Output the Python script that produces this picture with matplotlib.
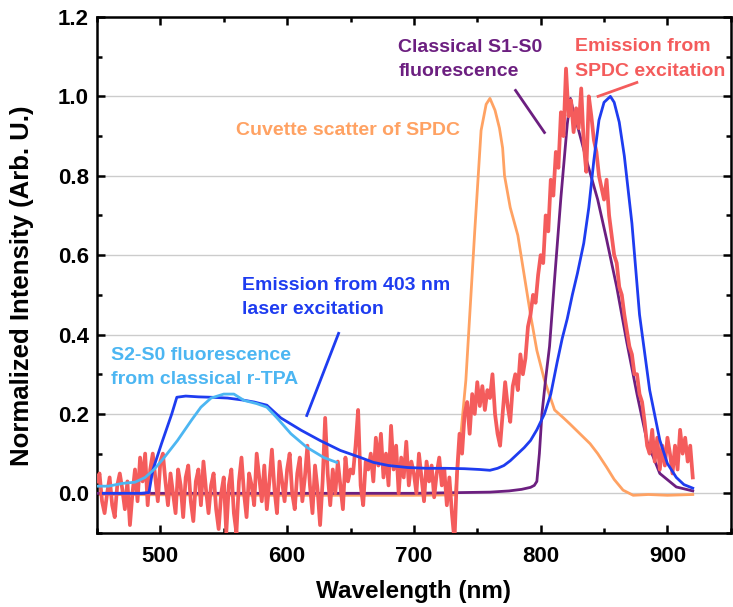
import numpy as np
import matplotlib
matplotlib.use("Agg")
import matplotlib.pyplot as plt
from matplotlib.ticker import MultipleLocator, FormatStrFormatter

plt.rcParams['font.family'] = ['Liberation Sans', 'DejaVu Sans']
plt.rcParams['font.weight'] = 'bold'

# ---------------- data ----------------
# Emission from 403 nm laser excitation (blue)
blue_wl = [455, 470, 485, 491, 494, 501, 509, 513, 520, 530, 540, 553, 565, 574, 584,
           595, 611, 626, 642, 658, 668, 680, 695, 710, 725, 740, 752, 760, 766, 771,
           776, 782, 787, 792, 797, 803, 808, 813, 817, 821, 825, 829, 834, 838, 842,
           846, 850, 855, 858, 862, 866, 872, 878, 886, 894, 900, 907, 913, 920]
blue_val = [0.0, 0.0, 0.0, 0.002, 0.058, 0.126, 0.2, 0.242, 0.245, 0.243, 0.242, 0.24, 0.235, 0.23, 0.222,
            0.19, 0.159, 0.133, 0.108, 0.09, 0.078, 0.07, 0.065, 0.063, 0.063, 0.062, 0.06, 0.058, 0.063, 0.07,
            0.082, 0.1, 0.115, 0.133, 0.16, 0.2, 0.25, 0.33, 0.39, 0.44, 0.5, 0.554, 0.63, 0.72, 0.84,
            0.94, 0.985, 1.0, 0.985, 0.935, 0.85, 0.68, 0.45, 0.26, 0.134, 0.075, 0.04, 0.022, 0.013]

# Classical S1-S0 fluorescence (purple)
purple_wl = [450, 600, 700, 760, 775, 785, 792, 795, 797, 799, 801, 804, 807, 811, 816,
             821, 823.5, 826, 830, 837, 845, 852, 860, 868, 876, 884, 894, 907, 920]
purple_val = [0.0, 0.0, 0.0, 0.003, 0.006, 0.01, 0.015, 0.02, 0.03, 0.1, 0.2, 0.29, 0.37, 0.54, 0.746,
              0.93, 0.995, 0.96, 0.914, 0.83, 0.74, 0.64, 0.52, 0.38, 0.25, 0.13, 0.05, 0.016, 0.006]

# Cuvette scatter of SPDC (orange)
orange_wl = [450, 600, 700, 732, 733, 741, 748, 753, 757, 760, 764, 767.5, 770, 771.5, 776,
             782, 787, 792, 797, 803, 811, 818, 823, 831, 839, 845, 852, 858, 865, 873,
             885, 900, 920]
orange_val = [-0.003, -0.005, -0.005, -0.004, 0.008, 0.285, 0.66, 0.914, 0.98, 0.995, 0.965, 0.92, 0.87, 0.8, 0.72,
              0.65, 0.55, 0.45, 0.36, 0.285, 0.21, 0.19, 0.175, 0.15, 0.125, 0.1, 0.066, 0.035, 0.008, -0.005,
              -0.003, -0.005, -0.003]

# S2-S0 fluorescence from classical r-TPA (light blue)
lb_wl = [450, 459, 470, 480, 488, 495, 503, 513.5, 524.5, 532, 540, 550, 558, 566, 576,
         584, 592, 603, 615.5, 629, 639]
lb_val = [0.018, 0.018, 0.025, 0.028, 0.04, 0.06, 0.09, 0.133, 0.184, 0.217, 0.24, 0.25, 0.25, 0.234, 0.226,
          0.217, 0.19, 0.15, 0.116, 0.09, 0.078]

# Emission from SPDC excitation (red), sampled every 2 nm starting at 450 nm
red_start = 450
red_step = 2
red_val = [
    # 450-500
    0.03, 0.05, -0.02, -0.05, 0.0, 0.04, -0.03, -0.06, 0.02, 0.05, 0.01, -0.04, 0.03, -0.08, 0.0,
    0.06, -0.02, 0.09, 0.03, 0.1, -0.03, 0.06, 0.1, 0.04, -0.02, 0.08,
    # 502-550
    0.1, 0.03, -0.03, 0.05, 0.0, -0.05, 0.06, 0.02, -0.06, 0.04, 0.07, -0.02, -0.07, 0.03, 0.06,
    -0.03, 0.08, 0.01, -0.05, 0.02, 0.05, -0.04, -0.09, 0.0, 0.04,
    # 552-600
    -0.1, 0.02, 0.06, -0.05, -0.1, 0.03, 0.09, 0.0, -0.06, 0.05, 0.02, -0.03, 0.1, 0.04, -0.02,
    0.07, -0.04, 0.03, 0.11, 0.01, -0.05, 0.08, 0.03, -0.02, 0.06,
    # 602-650
    0.1, 0.0, -0.04, 0.05, 0.09, -0.02, 0.04, 0.12, 0.02, -0.05, 0.07, 0.01, -0.08, 0.03, 0.19,
    0.05, -0.03, 0.06, 0.0, 0.08, 0.02, -0.04, 0.09, 0.03, 0.06,
    # 652-700
    0.05, 0.12, 0.21, 0.02, -0.03, 0.08, 0.06, 0.1, 0.03, 0.14, 0.07, 0.15, 0.04, 0.1, 0.02,
    0.17, 0.06, 0.12, 0.0, 0.09, 0.04, 0.13, 0.02, 0.08, 0.05,
    # 702-732
    0.0, 0.1, 0.04, -0.02, 0.08, 0.03, 0.07, -0.01, 0.05, 0.09, 0.02, 0.06, -0.03, 0.04, -0.05, -0.12,
    # 734-800
    0.05, 0.15, 0.1, 0.2, 0.23, 0.15, 0.25, 0.2, 0.28, 0.22, 0.27, 0.21, 0.26, 0.24, 0.3,
    0.2, 0.15, 0.12, 0.2, 0.28, 0.22, 0.18, 0.27, 0.3, 0.26, 0.35, 0.3, 0.34, 0.42, 0.45,
    0.5, 0.48, 0.55, 0.6,
    # 802-860
    0.58, 0.7, 0.66, 0.79, 0.75, 0.86, 0.82, 0.96, 0.9, 1.07, 0.95, 0.99, 0.91, 0.97, 0.92,
    1.02, 0.88, 0.81, 1.0, 0.95, 0.89, 0.86, 0.8, 0.77, 0.74, 0.79, 0.7, 0.65, 0.6, 0.58,
    # 862-920
    0.52, 0.5, 0.45, 0.41, 0.37, 0.35, 0.3, 0.3, 0.25, 0.23, 0.18, 0.12, 0.1, 0.16, 0.08,
    0.14, 0.06, 0.12, 0.07, 0.14, 0.1, 0.05, 0.12, 0.06, 0.16, 0.1, 0.14, 0.08, 0.12, 0.04,
]
red_wl = red_start + red_step * np.arange(len(red_val))

yticks = [0.0, 0.2, 0.4, 0.6, 0.8, 1.0, 1.2]
xticks = [500, 600, 700, 800, 900]

# colours
c_red = '#f45c5c'
c_orange = '#ffa263'
c_purple = '#6c1f80'
c_blue = '#1e3cf0'
c_lblue = '#4cb6f2'

# ---------------- figure ----------------
fig = plt.figure(figsize=(7.33, 6.07), dpi=100)
ax = fig.add_axes([0.1323, 0.1219, 0.8647, 0.8501])

ax.plot(orange_wl, orange_val, color=c_orange, lw=2.0, zorder=2)
ax.plot(purple_wl, purple_val, color=c_purple, lw=2.0, zorder=3)
ax.plot(red_wl, red_val, color=c_red, lw=2.7, zorder=4)
ax.plot(blue_wl, blue_val, color=c_blue, lw=2.0, zorder=5)
ax.plot(lb_wl, lb_val, color=c_lblue, lw=2.0, zorder=6)

ax.set_xlim(450, 950)
ax.set_ylim(-0.1, 1.2)
ax.set_xticks(xticks)
ax.set_yticks(yticks)
ax.xaxis.set_minor_locator(MultipleLocator(50))
ax.yaxis.set_minor_locator(MultipleLocator(0.1))
ax.yaxis.set_major_formatter(FormatStrFormatter('%.1f'))
ax.grid(axis='y', which='major', color='#cccccc', lw=1.0, zorder=0)
ax.set_axisbelow(True)

for s in ax.spines.values():
    s.set_linewidth(1.8)
ax.tick_params(which='both', direction='in', top=True, right=True, width=1.8)
ax.tick_params(which='major', length=6, labelsize=16)
ax.tick_params(axis='y', which='major', pad=6)
ax.tick_params(axis='x', which='major', pad=9)
ax.tick_params(which='minor', length=3.5)
for lab in ax.get_xticklabels() + ax.get_yticklabels():
    lab.set_fontweight('bold')

ax.set_xlabel('Wavelength (nm)', fontsize=17.5, fontweight='bold', labelpad=10)
ax.set_ylabel('Normalized Intensity (Arb. U.)', fontsize=18.5, fontweight='bold')
ax.yaxis.set_label_coords(-0.1, 0.48)

fs = 14
ls = 1.55
ax.text(687.6, 1.093, 'Classical S1-S0\nfluorescence', color=c_purple, fontsize=fs,
        fontweight='bold', va='center', ha='left', linespacing=ls)
ax.plot([780.2, 803], [1.015, 0.909], color=c_purple, lw=2.0, zorder=7)

ax.text(827, 1.094, 'Emission from\nSPDC excitation', color=c_red, fontsize=fs,
        fontweight='bold', va='center', ha='left', linespacing=ls)
ax.plot([875.9, 845.3], [1.035, 1.0], color=c_red, lw=2.0, zorder=7)

ax.text(559.8, 0.914, 'Cuvette scatter of SPDC', color=c_orange, fontsize=fs,
        fontweight='bold', va='center', ha='left')

ax.text(564.5, 0.494, 'Emission from 403 nm\nlaser excitation', color=c_blue, fontsize=fs,
        fontweight='bold', va='center', ha='left', linespacing=ls)
ax.plot([640.6, 615.5], [0.403, 0.196], color=c_blue, lw=2.0, zorder=7)

ax.text(461, 0.316, 'S2-S0 fluorescence\nfrom classical r-TPA', color=c_lblue, fontsize=fs,
        fontweight='bold', va='center', ha='left', linespacing=ls)

fig.savefig('out.png', dpi=100)
